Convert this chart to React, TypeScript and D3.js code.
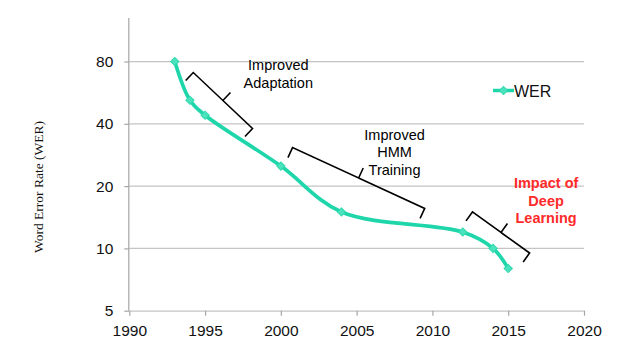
import React, { useEffect, useRef } from 'react';
import * as d3 from 'd3';

const years = [1993, 1994, 1995, 2000, 2004, 2012, 2014, 2015];
const wer = [80, 52, 44, 25, 15, 12, 10, 8];
const xTicks = [1990, 1995, 2000, 2005, 2010, 2015, 2020];
const yTicks = [5, 10, 20, 40, 80];
const seriesName = 'WER';

// bracket corners in data space [year, WER]
const brackets = [
  { from: [1994.22, 70.8], to: [1998.13, 38.0] },
  { from: [2000.77, 30.7], to: [2009.49, 15.6] },
  { from: [2012.64, 15.0], to: [2016.41, 9.5] },
];
const notes = [
  { lines: ['Improved', 'Adaptation'], at: [1999.83, 72.6], color: '#000', bold: false },
  { lines: ['Improved', 'HMM', 'Training'], at: [2007.5, 33.5], color: '#000', bold: false },
  { lines: ['Impact of', 'Deep', 'Learning'], at: [2017.5, 19.6], color: '#ff2a2a', bold: true },
];

const W = 630, H = 359;
const font = 'Liberation Sans, Arial, Helvetica, sans-serif';

const App = () => {
  const ref = useRef<SVGSVGElement>(null);

  useEffect(() => {
    if (!ref.current) return;
    const svg = d3.select(ref.current);
    svg.selectAll('*').remove();

    const x = d3.scaleLinear().domain([1990, 2020]).range([129.3, 584]);
    const y = d3.scaleLog().base(2).domain([5, 130]).range([310.7, 17.9]);
    const left = x(1990), right = x(2020), bottom = y(5), top = y(130);

    // grid lines
    svg.append('g')
      .selectAll('line')
      .data(yTicks.filter(d => d > 5))
      .enter().append('line')
      .attr('x1', left).attr('x2', right)
      .attr('y1', d => y(d)).attr('y2', d => y(d))
      .attr('stroke', '#c4c4c4').attr('stroke-width', 1.2);

    // y axis
    const ya = svg.append('g').attr('transform', `translate(${left},0)`)
      .call(d3.axisLeft(y).tickValues(yTicks).tickFormat(d => String(d)).tickSize(5).tickPadding(11));
    ya.select('.domain').attr('d', `M-0.5,${top}V${bottom}`).attr('stroke', '#a6a6a6').attr('stroke-width', 1.2);
    ya.selectAll('.tick line').attr('stroke', '#a6a6a6').attr('stroke-width', 1.2);
    ya.selectAll('.tick text').attr('font-family', font).attr('font-size', 15.5).attr('fill', '#111');

    // x axis
    const xa = svg.append('g').attr('transform', `translate(0,${bottom})`)
      .call(d3.axisBottom(x).tickValues(xTicks).tickFormat(d => String(d)).tickSize(5).tickSizeOuter(0).tickPadding(9));
    xa.select('.domain').attr('stroke', '#c4c4c4').attr('stroke-width', 1.2);
    xa.selectAll('.tick line').attr('stroke', '#a6a6a6').attr('stroke-width', 1.2);
    xa.selectAll('.tick text').attr('font-family', font).attr('font-size', 15.5).attr('fill', '#111');

    // y axis title
    svg.append('text')
      .attr('transform', `translate(43,187) rotate(-90)`)
      .attr('text-anchor', 'middle')
      .attr('font-family', 'Liberation Serif, Times New Roman, serif')
      .attr('font-size', 13.5)
      .attr('fill', '#111')
      .text('Word Error Rate (WER)');

    // series line
    const data = years.map((yr, i) => ({ yr, v: wer[i] }));
    const line = d3.line<{ yr: number; v: number }>()
      .x(d => x(d.yr)).y(d => y(d.v))
      .curve(d3.curveCatmullRom.alpha(0.5));
    svg.append('path').datum(data)
      .attr('d', line)
      .attr('fill', 'none')
      .attr('stroke', '#1ed6aa')
      .attr('stroke-width', 3.7)
      .attr('stroke-linejoin', 'round');

    const diamond = d3.symbol(d3.symbolSquare, 34);
    svg.append('g').selectAll('path')
      .data(data)
      .enter().append('path')
      .attr('d', diamond)
      .attr('transform', d => `translate(${x(d.yr)},${y(d.v)}) rotate(45)`)
      .attr('fill', '#4be3bd')
      .attr('stroke', '#2fd8ae')
      .attr('stroke-width', 1);

    // brackets
    brackets.forEach(b => {
      const ax = x(b.from[0]), ay = y(b.from[1]);
      const bx = x(b.to[0]), by = y(b.to[1]);
      const len = Math.hypot(bx - ax, by - ay);
      const ux = (bx - ax) / len, uy = (by - ay) / len;
      const px = -uy, py = ux; // perpendicular pointing down-left
      const t = 11, n = 11;
      const mx = (ax + bx) / 2, my = (ay + by) / 2;
      const p = d3.path();
      p.moveTo(ax + px * t, ay + py * t);
      p.lineTo(ax, ay);
      p.lineTo(mx, my);
      p.lineTo(mx - px * n, my - py * n);
      p.moveTo(mx, my);
      p.lineTo(bx, by);
      p.lineTo(bx + px * t, by + py * t);
      svg.append('path').attr('d', p.toString())
        .attr('fill', 'none').attr('stroke', '#000').attr('stroke-width', 1.6)
        .attr('stroke-linejoin', 'miter');
    });

    // annotation text
    notes.forEach(nt => {
      const t = svg.append('text')
        .attr('text-anchor', 'middle')
        .attr('font-family', font)
        .attr('font-size', 14.5)
        .attr('font-weight', nt.bold ? 'bold' : 'normal')
        .attr('fill', nt.color);
      nt.lines.forEach((l, i) => {
        t.append('tspan').attr('x', x(nt.at[0])).attr('y', y(nt.at[1]) + i * 17.6).text(l);
      });
    });

    // legend
    const lx = 493, ly = 90.5;
    svg.append('line').attr('x1', lx).attr('x2', lx + 21).attr('y1', ly).attr('y2', ly)
      .attr('stroke', '#1ed6aa').attr('stroke-width', 3.5);
    svg.append('path').attr('d', diamond)
      .attr('transform', `translate(${lx + 10.5},${ly}) rotate(45)`)
      .attr('fill', '#4be3bd').attr('stroke', '#2fd8ae');
    svg.append('text').attr('x', lx + 21).attr('y', ly + 6)
      .attr('font-family', font).attr('font-size', 16).attr('fill', '#111')
      .text(seriesName);
  }, []);

  return (
    <svg ref={ref} width={W} height={H}
      style={{ position: 'absolute', left: 0, top: 0, background: '#fff' }} />
  );
};

export default App;
